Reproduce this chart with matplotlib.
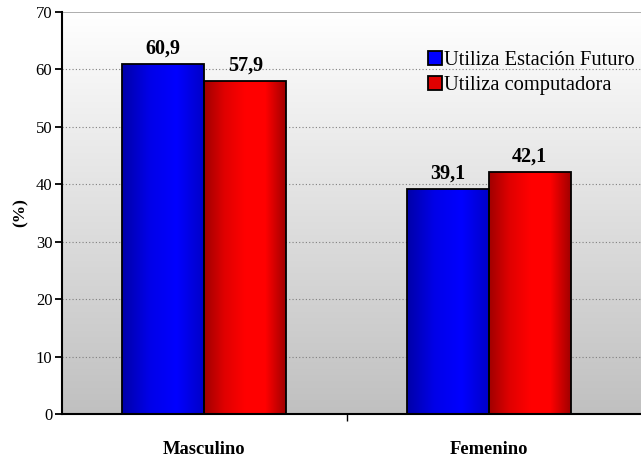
import numpy as np
import matplotlib
matplotlib.use("Agg")
import matplotlib.pyplot as plt
from matplotlib.colors import LinearSegmentedColormap
from matplotlib.lines import Line2D

categories = ["Masculino", "Femenino"]
series_names = ["Utiliza Estación Futuro", "Utiliza computadora"]
estacion = [60.9, 39.1]
computadora = [57.9, 42.1]
value_labels = [["60,9", "39,1"], ["57,9", "42,1"]]

plt.rcParams['font.family'] = ['Liberation Serif', 'DejaVu Serif']

fig = plt.figure(figsize=(6.41, 4.59), dpi=100)
ax = fig.add_axes([62 / 641, 45 / 459, 579 / 641, 402 / 459])

ymax = 70
x0lim, x1lim = -0.5, 1.535
ax.set_xlim(x0lim, x1lim)
ax.set_ylim(0, ymax)

# background gradient, white at top to grey at bottom
bg = LinearSegmentedColormap.from_list("bg", ["#c0c0c0", "#ffffff"])
grad = np.linspace(0, 1, 256).reshape(-1, 1)
ax.imshow(grad, cmap=bg, origin="lower", aspect="auto",
          extent=[x0lim, x1lim, 0, ymax], zorder=0)

for y in range(10, 70, 10):
    ax.axhline(y, color="#808080", lw=0.8, ls=(0, (1, 2)), zorder=1)
ax.axhline(ymax, color="#a0a0a0", lw=1.2, zorder=1)

blue_cm = LinearSegmentedColormap.from_list("b", ["#0000a8", "#0000e8", "#0000ff", "#0000c8"])
red_cm = LinearSegmentedColormap.from_list("r", ["#a00000", "#e00000", "#ff0000", "#ff0000", "#a00000"])
hgrad = np.linspace(0, 1, 256).reshape(1, -1)

width = 0.288
x = np.arange(len(categories))
for vals, offs, cm, labels in [(estacion, -width / 2, blue_cm, value_labels[0]),
                               (computadora, width / 2, red_cm, value_labels[1])]:
    bars = ax.bar(x + offs, vals, width, facecolor="none", edgecolor="black",
                  lw=1.3, zorder=3)
    for b, lab in zip(bars, labels):
        bx, w, h = b.get_x(), b.get_width(), b.get_height()
        im = ax.imshow(hgrad, cmap=cm, aspect="auto",
                       extent=[bx, bx + w, 0, h], zorder=2)
        im.set_clip_path(b)
        ax.text(bx + w / 2, h + 1.0, lab, ha="center", va="bottom",
                fontsize=14.5, fontweight="bold")

ax.set_xlim(x0lim, x1lim)
ax.set_ylim(0, ymax)

ax.set_xticks([0.5])
ax.set_xticklabels([])
ax.tick_params(axis="x", length=5, width=1, direction="out")
for xi, cat in zip(x, categories):
    ax.text(xi, -4.7, cat, ha="center", va="top", fontsize=13.3,
            fontweight="bold")

ax.set_yticks(range(0, 71, 10))
ax.tick_params(axis="y", length=5, width=1.3, direction="out", labelsize=12, pad=2)
ax.set_ylabel("(%)", fontsize=12.5, fontweight="bold", labelpad=5)

ax.spines["top"].set_visible(False)
ax.spines["right"].set_visible(False)
ax.spines["left"].set_linewidth(1.5)
ax.spines["bottom"].set_linewidth(1.5)

handles = [Line2D([], [], marker="s", ls="none", markersize=10,
                  markerfacecolor=c, markeredgecolor="black", markeredgewidth=1.3)
           for c in ["#0000ff", "#e00000"]]
ax.legend(handles, series_names, loc="upper left", bbox_to_anchor=(0.617, 0.925),
          frameon=False, fontsize=14.8, handlelength=0.7, handletextpad=0.1,
          labelspacing=0.3, borderaxespad=0)

fig.savefig("out.png", dpi=100)
